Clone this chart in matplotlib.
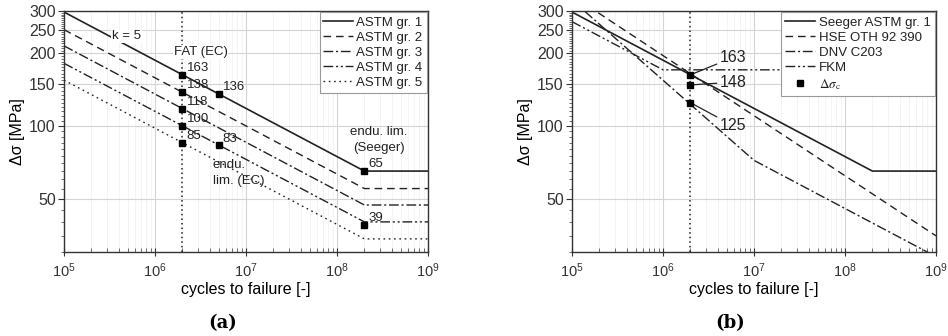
import numpy as np
import matplotlib
matplotlib.use('Agg')
import matplotlib.pyplot as plt
from matplotlib.ticker import FixedLocator, NullFormatter, LogFormatterMathtext

plt.rcParams['font.family'] = ['Liberation Sans', 'DejaVu Sans']
plt.rcParams['mathtext.fontset'] = 'custom'
plt.rcParams['mathtext.rm'] = 'Liberation Sans'
plt.rcParams['mathtext.it'] = 'Liberation Sans:italic'
plt.rcParams['text.color'] = '#222222'

# ---- data (a) ----
astm_labels = ['ASTM gr. 1', 'ASTM gr. 2', 'ASTM gr. 3', 'ASTM gr. 4', 'ASTM gr. 5']
astm_n = [1e5, 2e8, 1e9]
astm_s = [[297, 65, 65],
          [251, 55, 55],
          [215, 47, 47],
          [182, 40, 40],
          [155, 34, 34]]
fat_n = 2e6
fat_values = [163, 138, 118, 100, 85]
ec_lim_n = 5e6
ec_lim_values = [136, 83]
seeger_lim_n = 2e8
seeger_lim_values = [65, 39]

# ---- data (b) ----
b_labels = ['Seeger ASTM gr. 1', 'HSE OTH 92 390', 'DNV C203', 'FKM']
seeger_n = [1e5, 2e8, 1e9]
seeger_s = [297, 65, 65]
hse_n = [1e5, 1e9]
hse_s = [348, 35]
dnv_n = [1e5, 1e7, 1e9]
dnv_s = [333, 72, 28.7]
fkm_n = [1e5, 1e6, 1e9]
fkm_s = [271, 171, 171]
dsc_n = 2e6
dsc_values = [163, 148, 125]

line_col = '#222222'
styles = [dict(ls='-', lw=1.2),
          dict(ls=(0, (5.5, 3.5)), lw=1.0),
          dict(ls=(0, (7, 2, 1.5, 2)), lw=1.0),
          dict(ls=(0, (7, 2, 1.5, 2, 1.5, 2)), lw=1.0),
          dict(ls=(0, (1.2, 2.6)), lw=1.0)]

yminor = [v for v in range(30, 301, 5) if v not in (50, 100, 150, 200, 250, 300)]


def setup(ax):
    ax.set_xscale('log')
    ax.set_yscale('log')
    ax.set_xlim(1e5, 1e9)
    ax.set_ylim(30, 300)
    ax.xaxis.set_major_locator(FixedLocator([1e5, 1e6, 1e7, 1e8, 1e9]))
    ax.xaxis.set_major_formatter(LogFormatterMathtext())
    mx = [m * 10.0**e for e in range(5, 9) for m in range(2, 10)]
    ax.xaxis.set_minor_locator(FixedLocator(mx))
    ax.xaxis.set_minor_formatter(NullFormatter())
    ax.yaxis.set_major_locator(FixedLocator([50, 100, 150, 200, 250, 300]))
    ax.yaxis.set_major_formatter(matplotlib.ticker.FuncFormatter(lambda v, p: '%d' % v))
    ax.yaxis.set_minor_locator(FixedLocator(yminor))
    ax.yaxis.set_minor_formatter(NullFormatter())
    ax.grid(True, which='major', color='#d4d4d4', lw=0.8)
    ax.grid(True, which='minor', axis='x', color='#f2f2f2', lw=0.6)
    ax.set_axisbelow(True)
    ax.tick_params(axis='x', which='major', direction='inout', length=6, labelsize=10.5, pad=4, colors='#333333')
    ax.tick_params(axis='x', which='minor', direction='in', length=3, colors='#555555')
    ax.tick_params(axis='y', which='major', direction='out', length=4, labelsize=11.5, pad=2, colors='#333333')
    ax.tick_params(axis='y', which='minor', direction='out', length=2.5, colors='#555555')
    for s in ax.spines.values():
        s.set_color('#333333')
        s.set_linewidth(1.0)
    ax.set_xlabel('cycles to failure [-]', fontsize=11.5, labelpad=1)
    ax.set_ylabel('Δσ [MPa]', fontsize=11.5, labelpad=3)
    ax.axvline(2e6, color=line_col, ls=(0, (1, 2)), lw=1.1, zorder=1.5)


fig = plt.figure(figsize=(9.48, 3.36), dpi=100)
axa = fig.add_axes([64 / 948, 1 - 252 / 336, 364 / 948, 241 / 336])
axb = fig.add_axes([572 / 948, 1 - 252 / 336, 364 / 948, 241 / 336])

# ---------- (a) ----------
setup(axa)
for lab, s, st in zip(astm_labels, astm_s, styles):
    axa.plot(astm_n, s, color=line_col, label=lab, **st)

sq = dict(marker='s', ms=4.5, color='black', ls='none', zorder=5)
axa.plot([fat_n] * len(fat_values), fat_values, **sq)
axa.plot([ec_lim_n] * len(ec_lim_values), ec_lim_values, **sq)
axa.plot([seeger_lim_n] * len(seeger_lim_values), seeger_lim_values, **sq)
for n, vals in [(fat_n, fat_values), (ec_lim_n, ec_lim_values), (seeger_lim_n, seeger_lim_values)]:
    for v in vals:
        axa.annotate('%d' % v, (n, v), xytext=(3, 5), textcoords='offset points',
                     ha='left', va='center', fontsize=9.5)

wb = dict(facecolor='white', edgecolor='none', pad=0.5)
axa.text(0.172, 0.895, 'k = 5', transform=axa.transAxes, ha='center', va='center',
         fontsize=9.5, bbox=wb, zorder=4)
axa.text(0.376, 0.83, 'FAT (EC)', transform=axa.transAxes, ha='center', va='center',
         fontsize=9.5, bbox=wb, zorder=4)
axa.text(0.409, 0.326, 'endu.\nlim. (EC)', transform=axa.transAxes, ha='left', va='center',
         fontsize=9.5, linespacing=1.45)
axa.text(0.865, 0.465, 'endu. lim.\n(Seeger)', transform=axa.transAxes, ha='center', va='center',
         fontsize=9.5, linespacing=1.45)

lega = axa.legend(loc='upper right', fontsize=9.5, frameon=True, fancybox=False,
                  edgecolor='#9a9a9a', framealpha=1, borderaxespad=0.1,
                  handlelength=2.2, handletextpad=0.3, labelspacing=0.22, borderpad=0.3)
lega.get_frame().set_linewidth(0.8)

# ---------- (b) ----------
setup(axb)
axb.plot(seeger_n, seeger_s, color=line_col, label=b_labels[0], **styles[0])
axb.plot(hse_n, hse_s, color=line_col, label=b_labels[1], **styles[1])
axb.plot(dnv_n, dnv_s, color=line_col, label=b_labels[2], **styles[2])
axb.plot(fkm_n, fkm_s, color=line_col, label=b_labels[3], **styles[3])
axb.plot([dsc_n] * len(dsc_values), dsc_values, label=r'$\Delta\sigma_\mathrm{c}$', **sq)

offsets = [(21, 12.5), (21, 2), (21, -16.5)]
for v, off in zip(dsc_values, offsets):
    axb.annotate('%d' % v, (dsc_n, v), xytext=off, textcoords='offset points',
                 ha='left', va='center', fontsize=11.5,
                 arrowprops=dict(arrowstyle='-', color=line_col, lw=0.9, shrinkA=0, shrinkB=2))

legb = axb.legend(loc='upper right', fontsize=9.5, frameon=True, fancybox=False,
                  edgecolor='#9a9a9a', framealpha=1, borderaxespad=0.1,
                  handlelength=2.3, handletextpad=0.3, labelspacing=0.22, borderpad=0.3)
legb.get_frame().set_linewidth(0.8)
legb.get_texts()[-1].set_math_fontfamily('stix')

# captions
fig.text(223 / 948, 1 - 323 / 336, '(a)', ha='center', va='center', fontsize=13,
         family='DejaVu Serif', weight='bold', color='black')
fig.text(730 / 948, 1 - 323 / 336, '(b)', ha='center', va='center', fontsize=13,
         family='DejaVu Serif', weight='bold', color='black')

fig.savefig('out.png', dpi=100)
